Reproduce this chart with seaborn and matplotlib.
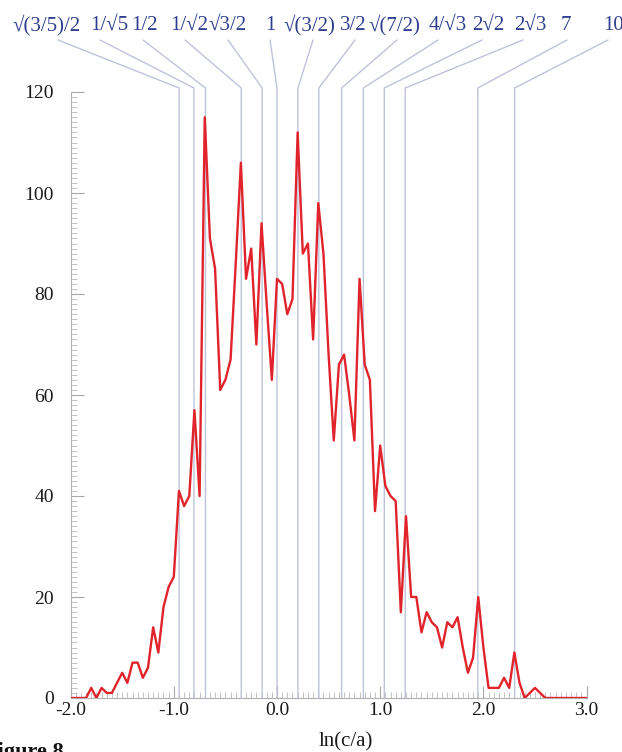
import numpy as np
import pandas as pd
import matplotlib
matplotlib.use("Agg")
import matplotlib.pyplot as plt
from matplotlib.ticker import MultipleLocator, FixedLocator, FixedFormatter
import seaborn as sns

# ---------------- data ----------------
bin_start = -2.0
bin_width = 0.05
counts = [0, 0, 0, 0, 2, 0, 2, 1, 1, 3,
          5, 3, 7, 7, 4, 6, 14, 9, 18, 22,
          24, 41, 38, 40, 57, 40, 115, 91, 85, 61,
          63, 67, 86, 106, 83, 89, 70, 94, 78, 63,
          83, 82, 76, 79, 112, 88, 90, 71, 98, 88,
          68, 51, 66, 68, 60, 51, 83, 66, 63, 37,
          50, 42, 40, 39, 17, 36, 20, 20, 13, 17,
          15, 14, 10, 15, 14, 16, 10, 5, 8, 20,
          10, 2, 2, 2, 4, 2, 9, 3, 0, 1,
          2, 1, 0, 0, 0, 0, 0, 0, 0, 0, 0]

ratio_labels = ["√(3/5)/2", "1/√5", "1/2", "1/√2", "√3/2", "1", "√(3/2)",
                "3/2", "√(7/2)", "4/√3", "2√2", "2√3", "7", "10"]
ratio_values = [np.sqrt(3 / 5) / 2, 1 / np.sqrt(5), 1 / 2, 1 / np.sqrt(2),
                np.sqrt(3) / 2, 1.0, np.sqrt(3 / 2), 3 / 2, np.sqrt(7 / 2),
                4 / np.sqrt(3), 2 * np.sqrt(2), 2 * np.sqrt(3), 7.0, 10.0]

x_ticks = [-2.0, -1.0, 0.0, 1.0, 2.0, 3.0]
x_ticklabels = ["-2.0", "-1.0", "0.0", "1.0", "2.0", "3.0"]
y_ticks = [0, 20, 40, 60, 80, 100, 120]

# ---------------- layout (pixel positions of top labels) ----------------
label_px = [47, 109, 144, 189, 228, 270, 309, 353, 394, 448, 488, 530, 566, 614]
line_top_px = [58, 100, 143, 185, 228, 270, 313, 355, 397, 438, 482, 523, 567, 608]

W, H = 622, 752
ax_left_px, ax_right_px = 70.6, 586.6
ax_bottom_px, ax_top_px = 698, 92

sns.set_theme(style="ticks")
plt.rcParams["font.family"] = ["Liberation Serif", "DejaVu Serif"]
plt.rcParams["axes.unicode_minus"] = False

fig = plt.figure(figsize=(W / 100, H / 100), dpi=100)
fig.patch.set_facecolor("white")
ax = fig.add_axes([ax_left_px / W, 1 - ax_bottom_px / H,
                   (ax_right_px - ax_left_px) / W, (ax_bottom_px - ax_top_px) / H])
ax.set_facecolor("white")

x_vals = bin_start + bin_width * np.arange(len(counts))
df = pd.DataFrame({"lnca": x_vals, "count": counts})

ax.set_xlim(-2.0, 3.0)
ax.set_ylim(0, 120)

px_per_x = (ax_right_px - ax_left_px) / 5.0
px_per_y = (ax_bottom_px - ax_top_px) / 120.0


def px2x(px):
    return -2.0 + (px - ax_left_px) / px_per_x


def px2y(py):
    return (ax_bottom_px - py) / px_per_y


guide_color = "#bfc3da"
y_bend = px2y(88)
y_top = px2y(40)
y_text = px2y(25)
for lab, val, lpx, tpx in zip(ratio_labels, ratio_values, label_px, line_top_px):
    lx = np.log(val)
    ax.plot([lx, lx, px2x(tpx)], [0, y_bend, y_top], color=guide_color,
            lw=1.0, clip_on=False, zorder=1)
    ax.text(px2x(lpx), y_text, lab, ha="center", va="center",
            fontsize=15, color="#2f3f8f", clip_on=False)

sns.lineplot(data=df, x="lnca", y="count", ax=ax, color="#e1232b",
             linewidth=1.7, zorder=3)

sns.despine(ax=ax)
for s in ["left", "bottom"]:
    ax.spines[s].set_color("#b0b0b0")
    ax.spines[s].set_linewidth(0.8)

ax.xaxis.set_major_locator(FixedLocator(x_ticks))
ax.xaxis.set_major_formatter(FixedFormatter(x_ticklabels))
ax.xaxis.set_minor_locator(MultipleLocator(0.05))
ax.yaxis.set_major_locator(FixedLocator(y_ticks))
ax.yaxis.set_minor_locator(MultipleLocator(1))

ax.tick_params(axis="both", which="major", direction="in", length=9,
               width=0.8, color="#a8a8a8", labelsize=14, labelcolor="#1a1a1a")
ax.tick_params(axis="both", which="minor", direction="in", length=4,
               width=0.6, color="#b8b8b8")
ax.tick_params(axis="x", which="major", pad=3)
ax.tick_params(axis="y", which="major", pad=12)

ax.set_xlabel("ln(c/a)", fontsize=15, color="#1a1a1a")
ax.set_ylabel("")
ax.xaxis.label.set_va("center")
ax.xaxis.set_label_coords((346 - ax_left_px) / (ax_right_px - ax_left_px),
                          (ax_bottom_px - 742) / (ax_bottom_px - ax_top_px))

fig.text(64 / W, 1 - 757 / H, "Figure 8", ha="right", va="baseline",
         fontsize=16, fontweight="bold", color="#111111")

fig.savefig("out.png", dpi=100, facecolor="white")
